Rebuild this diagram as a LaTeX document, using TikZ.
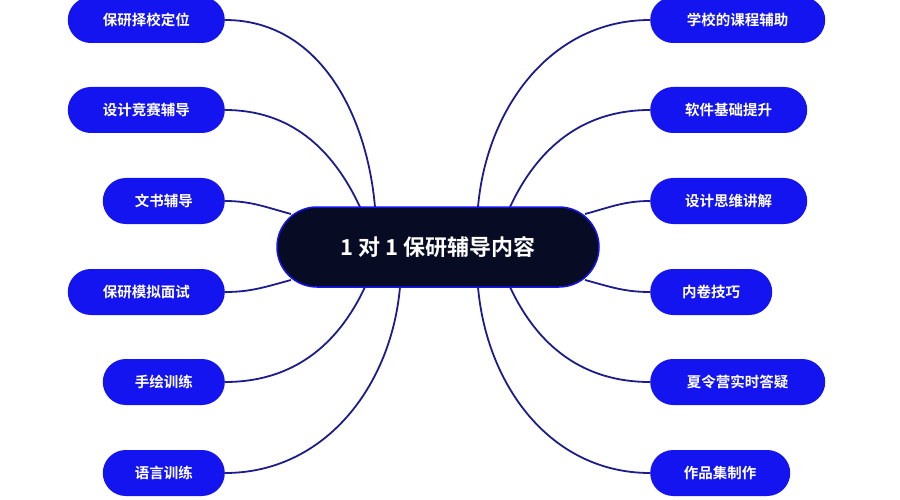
\documentclass[tikz,border=0pt]{standalone}
\usepackage{fontspec}
\setmainfont{Noto Sans CJK SC}[BoldFont={Noto Sans CJK SC Bold}]
\usetikzlibrary{calc}
\definecolor{pillblue}{HTML}{1414F0}
\definecolor{hubnavy}{HTML}{070B24}
\definecolor{linknavy}{HTML}{1C1C8C}
\tikzset{
  pill/.style={fill=pillblue, text=white, font=\bfseries\fontsize{14.5}{16}\selectfont,
               rounded corners=23pt, minimum height=46pt, inner xsep=16pt},
  hub/.style={fill=hubnavy, draw=pillblue, line width=1.5pt, text=white,
              font=\bfseries\fontsize{22}{24}\selectfont, rounded corners=40pt,
              minimum width=322pt, minimum height=80pt},
  link/.style={draw=linknavy, line width=1.8pt}
}
\begin{document}
\begin{tikzpicture}[x=1pt,y=-1pt]
\useasboundingbox (0,0) rectangle (900,500);
\coordinate (c) at (438,247);
% left branch
\node[pill, anchor=east, minimum width=157pt] (l1) at (225,20)  {保研择校定位};
\node[pill, anchor=east, minimum width=157pt] (l2) at (225,110) {设计竞赛辅导};
\node[pill, anchor=east, minimum width=122pt] (l3) at (225,201) {文书辅导};
\node[pill, anchor=east, minimum width=157pt] (l4) at (225,292) {保研模拟面试};
\node[pill, anchor=east, minimum width=122pt] (l5) at (225,382) {手绘训练};
\node[pill, anchor=east, minimum width=122pt] (l6) at (225,473) {语言训练};
% right branch
\node[pill, anchor=west, minimum width=175pt] (r1) at (650,20)  {学校的课程辅助};
\node[pill, anchor=west, minimum width=157pt] (r2) at (650,110) {软件基础提升};
\node[pill, anchor=west, minimum width=157pt] (r3) at (650,201) {设计思维讲解};
\node[pill, anchor=west, minimum width=122pt] (r4) at (650,292) {内卷技巧};
\node[pill, anchor=west, minimum width=175pt] (r5) at (650,382) {夏令营实时答疑};
\node[pill, anchor=west, minimum width=140pt] (r6) at (650,473) {作品集制作};
% connectors
\draw[link] (l1.east) to[out=0,in=95]  ($(c)+(-63,-40)$);
\draw[link] (l2.east) to[out=0,in=115] ($(c)+(-78,-40)$);
\draw[link] (l3.east) to[out=0,in=165] ($(c)+(-147,-33)$);
\draw[link] (l4.east) to[out=0,in=195] ($(c)+(-147,33)$);
\draw[link] (l5.east) to[out=0,in=245] ($(c)+(-73,40)$);
\draw[link] (l6.east) to[out=0,in=265] ($(c)+(-38,40)$);
\draw[link] (r1.west) to[out=180,in=85]  ($(c)+(40,-40)$);
\draw[link] (r2.west) to[out=180,in=65]  ($(c)+(72,-40)$);
\draw[link] (r3.west) to[out=180,in=15]  ($(c)+(147,-33)$);
\draw[link] (r4.west) to[out=180,in=-15] ($(c)+(147,33)$);
\draw[link] (r5.west) to[out=180,in=-65] ($(c)+(72,40)$);
\draw[link] (r6.west) to[out=180,in=-85] ($(c)+(40,40)$);
% hub on top of the links
\node[hub] (hub) at (c) {1 对 1 保研辅导内容};
\end{tikzpicture}
\end{document}
